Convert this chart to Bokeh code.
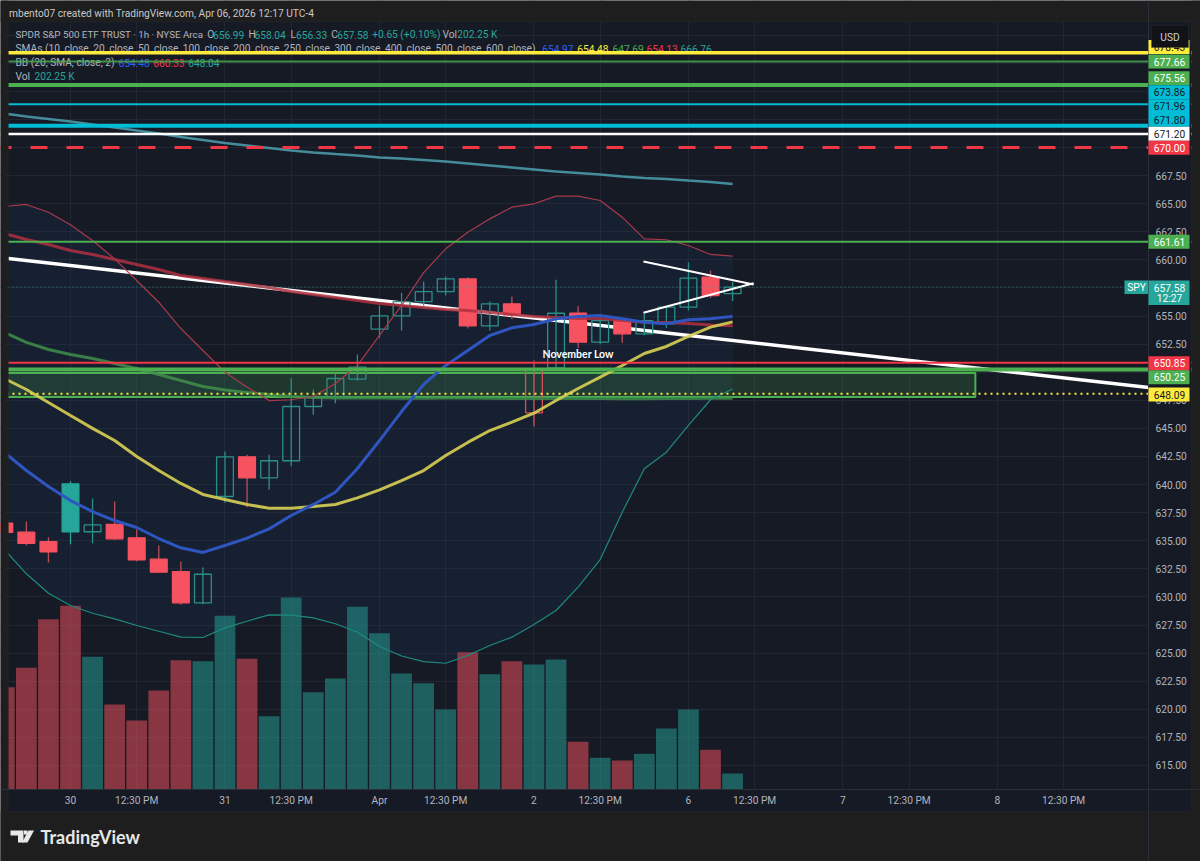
from bokeh.plotting import figure
from bokeh.core.properties import value
from bokeh.models import (Range1d, LinearAxis, FixedTicker, Span, Label, BoxAnnotation, PolyAnnotation,
                          PrintfTickFormatter, ColumnDataSource, Grid)
from bokeh.embed import file_html
from bokeh.resources import INLINE

# ---------- data (hourly bars, index 0 = first bar of Mar 30) ----------
bar_index = list(range(-3, 31))
opens = [636.56,635.76,634.91,635.80,635.80,636.45,635.26,633.36,632.26,629.48,638.94,642.47,640.60,642.12,646.95,647.78,649.38,
         653.83,655.02,656.29,657.18,658.31,654.13,656.09,646.39,650.39,655.25,652.67,654.60,653.42,654.31,655.79,658.46,656.99]
closes = [635.74,634.76,634.02,640.07,636.42,635.17,633.31,632.20,629.48,632.02,642.47,640.60,642.12,646.95,647.78,649.44,650.45,
          655.02,656.29,657.18,658.31,654.13,656.09,655.11,650.30,655.25,652.67,654.60,653.42,654.60,655.79,658.37,656.83,657.58]
highs = [636.60,636.71,635.32,640.30,638.76,638.49,636.00,634.58,633.15,632.62,642.94,642.65,642.65,649.47,648.46,649.86,651.58,
         655.94,657.07,658.07,658.52,658.46,656.29,656.74,651.04,658.23,655.88,654.96,654.80,655.25,655.91,659.77,659.05,658.04]
lows = [635.70,634.58,633.07,634.69,634.78,635.10,633.18,632.20,629.30,629.35,638.38,637.99,639.54,641.64,646.21,647.24,649.26,
        653.06,653.71,655.94,656.83,653.89,653.71,654.72,645.17,650.30,652.17,652.50,652.62,653.30,653.95,655.49,656.62,656.33]
# u = hollow rising, U = solid rising, d = solid falling, D = hollow red
candle_kind = ["d","d","d","U","u","d","d","d","d","u","u","d","u","u","u","u","u",
               "u","u","u","u","d","u","d","D","u","d","u","d","u","u","u","d","u"]
volumes = [1293,1538,2153,2322,1677,1074,872,1251,1634,1622,2196,1652,926,2427,1230,1403,2309,
           1976,1466,1344,1011,1735,1457,1622,1580,1643,603,401,367,451,771,1011,502,202]
volume_dir = ["d","d","d","d","u","d","d","d","d","u","u","d","u","u","u","u","u",
              "u","u","u","u","d","u","d","u","u","d","u","d","u","u","u","d","u"]

sma_blue = [642.86,641.25,639.83,638.58,637.60,636.80,636.18,635.20,634.37,633.96,634.58,635.23,636.06,637.25,638.23,639.32,641.43,
            643.92,646.50,648.91,650.60,651.93,653.27,653.95,654.25,654.75,654.96,655.05,654.75,654.45,654.31,654.67,654.75,654.97]
sma_yellow = [649.44,648.46,647.30,646.15,645.00,643.92,642.50,641.25,640.10,639.12,638.67,638.23,637.90,637.90,638.05,638.23,638.82,
              639.53,640.36,641.25,642.59,643.75,644.81,645.55,646.35,647.48,648.55,649.56,650.60,651.67,652.29,653.18,654.01,654.48]
sma_green = [653.54,652.65,652.02,651.58,651.22,650.78,650.33,649.80,649.26,648.73,648.42,648.20,648.02,647.84,647.75,647.70,647.72,
             647.70,647.68,647.69,647.70,647.70,647.68,647.67,647.66,647.66,647.65,647.65,647.64,647.64,647.65,647.66,647.68,647.69]
sma_red = [662.35,661.81,661.37,660.83,660.48,660.03,659.59,659.14,658.61,658.34,658.07,657.81,657.54,657.18,656.92,656.65,656.38,
           656.12,655.94,655.76,655.58,655.49,655.31,655.14,654.96,654.87,654.78,654.77,654.60,654.45,654.43,654.34,654.20,654.13]
sma_teal = [673.03,672.76,672.54,672.31,672.05,671.78,671.51,671.25,670.93,670.67,670.40,670.18,669.96,669.73,669.56,669.42,669.29,
            669.11,669.02,668.89,668.75,668.58,668.40,668.22,668.04,667.86,667.73,667.60,667.42,667.29,667.20,667.06,666.93,666.76]
bb_upper = [664.75,664.93,664.24,663.12,661.72,660.09,658.16,656.23,653.89,651.93,650.00,648.67,647.48,647.55,647.84,649.00,650.60,
            653.27,655.94,658.87,660.98,662.46,663.65,664.69,664.99,665.67,665.67,665.28,663.80,661.87,661.79,661.28,660.48,660.33]
bb_lower = [634.22,632.06,630.33,629.24,628.55,628.05,627.46,626.95,626.42,626.39,627.25,627.84,628.41,628.38,628.14,627.61,626.86,
            625.59,624.74,624.25,624.10,624.79,625.68,626.42,627.55,628.79,630.87,633.33,637.54,641.40,642.88,645.26,647.55,648.50]

# ---------- horizontal levels ----------
level_yellow, level_green_a, level_green_b = 678.43, 677.66, 675.56
level_cyan_a, level_cyan_b, level_white, level_red_dash = 673.86, 671.93, 671.20, 670.00
level_green_c, level_red, level_green_d, level_yellow_dot = 661.61, 650.85, 650.25, 648.09
zone_top, zone_bottom, zone_right = 649.93, 647.79, 41
last_price = 657.58
trend_x = [-2.81, 48.85]
trend_y = [660.12, 648.64]
wedge_x = [25.96, 30.95]
wedge_top = [659.85, 657.81]
wedge_bottom = [655.29, 657.92]
note_x, note_y, note_text = 23.0, 651.58, "November Low"

price_ticks = [615,617.5,620,622.5,625,627.5,630,632.5,635,637.5,640,642.5,645,647.5,650,652.5,655,657.5,660,662.5,665,667.5,670,672.5,675,677.5,680]
time_ticks = [0,3,7,10,14,17,21,24,28,31,35,38,42,45]
time_labels = ["30","12:30 PM","31","12:30 PM","Apr","12:30 PM","2","12:30 PM","6","12:30 PM","7","12:30 PM","8","12:30 PM"]

# ---------- colours ----------
BG, OUTER, GRID = "#161a25", "#1e1e1e", "#222633"
TEAL, RED = "#26a69a", "#f7525f"
AXIS_TXT = "#b2b5be"
FONT = "Roboto"
FS = "10.2px"

# The frame fills the whole page so that flags and the price scale can sit next to the pane.
p = figure(width=1200, height=861, output_backend="svg", toolbar_location=None,
           x_range=Range1d(-3.172, 51.201), y_range=Range1d(606.454, 683.083),
           x_axis_type=None, y_axis_type=None,
           min_border_left=0, min_border_right=0, min_border_top=0, min_border_bottom=0,
           background_fill_color=BG, border_fill_color=OUTER, outline_line_color=None)

ry = LinearAxis(ticker=FixedTicker(ticks=price_ticks), formatter=PrintfTickFormatter(format="%.2f"), fixed_location=48.845)
xa = LinearAxis(ticker=FixedTicker(ticks=time_ticks), major_label_overrides=dict(zip(time_ticks, time_labels)), fixed_location=612.86)
for ax, off in ((ry, 7), (xa, 5)):
    ax.major_tick_line_color = None
    ax.minor_tick_line_color = None
    ax.major_tick_out = 0
    ax.major_tick_in = 0
    ax.minor_tick_out = 0
    ax.axis_line_color = "#2a2e39"
    ax.major_label_text_color = AXIS_TXT
    ax.major_label_text_font = FONT
    ax.major_label_text_font_size = FS
    ax.major_label_standoff = off
    ax.level = "overlay"

p.add_layout(ry, "right")
p.add_layout(xa, "below")
p.add_layout(Grid(dimension=0, ticker=xa.ticker, grid_line_color=GRID))
p.add_layout(Grid(dimension=1, ticker=ry.ticker, grid_line_color=GRID))

# Bollinger fill
p.varea(x=bar_index, y1=bb_lower, y2=bb_upper, fill_color="#1f3a5f", fill_alpha=0.2)

# levels
def span(v, col, w, **kw):
    p.add_layout(Span(location=v, dimension="width", line_color=col, line_width=w, level="glyph", **kw))
span(level_green_a, "#4caf50", 2, line_alpha=0.8)
span(level_green_b, "#4caf50", 4)
span(level_cyan_a, "#00bcd4", 2)
span(level_cyan_b, "#00bcd4", 4)
span(level_white, "#ffffff", 2.5)
span(level_red_dash, "#f23645", 3, line_dash=[17, 19], line_dash_offset=6)
span(level_green_c, "#4caf50", 2)
span(level_red, "#f23645", 2)
span(level_green_d, "#4caf50", 4)
span(level_yellow_dot, "#ffeb3b", 2, line_dash=[2, 4])
span(level_yellow, "#ffeb3b", 3.5)
p.add_layout(Span(location=last_price, dimension="width", line_color=TEAL, line_width=1, line_dash=[1, 3], line_alpha=0.8, level="glyph"))

# zone + main trend line
p.quad(left=[-5], right=[zone_right], top=[zone_top], bottom=[zone_bottom],
       fill_color="#4caf50", fill_alpha=0.2, line_color="#4caf50", line_width=2)
p.line(trend_x, trend_y, line_color="#ffffff", line_width=3.5)

# volume on its own range (zero sits on the time axis)
p.extra_y_ranges = {"vol": Range1d(-910, 9973)}
vol_colors = [TEAL if d == "u" else RED for d in volume_dir]
p.vbar(x=bar_index, top=volumes, bottom=0, width=0.94, fill_color=vol_colors, fill_alpha=0.5,
       line_color=None, y_range_name="vol")

# candles
wick_col = [{"u": "#2b8f88", "U": TEAL, "d": "#b8505a", "D": "#d9505a"}[k] for k in candle_kind]
p.segment(bar_index, highs, bar_index, lows, line_color=wick_col, line_width=1.3)
tops = [max(a, b) for a, b in zip(opens, closes)]
bots = [min(a, b) for a, b in zip(opens, closes)]
fill = [{"u": None, "U": TEAL, "d": RED, "D": None}[k] for k in candle_kind]
alpha = [0 if f is None else 1 for f in fill]
line = [{"u": "#2b8f88", "U": TEAL, "d": RED, "D": "#d9505a"}[k] for k in candle_kind]
src = ColumnDataSource(dict(x=bar_index, top=tops, bottom=bots, line=line, alpha=alpha,
                            fill=[f or BG for f in fill]))
p.vbar(x="x", top="top", bottom="bottom", width=0.76, source=src, fill_color="fill", fill_alpha="alpha",
       line_color="line", line_width=1.3)

# moving averages
p.line(bar_index, sma_teal, line_color="#4a99a8", line_width=2.5, line_alpha=0.9)
p.line(bar_index, sma_green, line_color="#3f8f4a", line_width=3, line_alpha=0.85)
p.line(bar_index, sma_red, line_color="#b0303f", line_width=3, line_alpha=0.85)
p.line(bar_index, sma_yellow, line_color="#d8cf55", line_width=3, line_alpha=0.9)
p.line(bar_index, sma_blue, line_color="#2f55c0", line_width=3)
p.line(bar_index, bb_upper, line_color="#a83a4c", line_width=1.2)
p.line(bar_index, bb_lower, line_color="#1f8a7e", line_width=1.2)

p.line(wedge_x, wedge_top, line_color="#ffffff", line_width=2)
p.line(wedge_x, wedge_bottom, line_color="#ffffff", line_width=2)
p.text([note_x], [note_y], text=[note_text], text_color="#ffffff", text_font=value("Lato"), text_font_style="bold",
       text_font_size="10.5px", text_align="center", text_baseline="middle")

# ---------- page furniture, in canvas pixels ----------
def text(x, y, t, col="#b2b5be", size=FS, style="normal", align="left", level="overlay", font=FONT):
    p.add_layout(Label(x=x, y=y, x_units="canvas", y_units="canvas", text=t, text_color=col,
                       text_font=font, text_font_size=size, text_font_style=style, text_align=align,
                       text_baseline="middle", level=level))

def box(x0, x1, y0, y1, col, line=None, level="overlay"):
    p.add_layout(BoxAnnotation(left=x0, right=x1, top=y0, bottom=y1, left_units="canvas",
                               right_units="canvas", top_units="canvas", bottom_units="canvas",
                               fill_color=col, fill_alpha=1 if col else 0, line_color=line, level=level))

# legend sits under the level lines
text(15, 34, "SPDR S&P 500 ETF TRUST · 1h · NYSE Arca", size="9.8px", level="underlay")
for x, t in [(206.7, "O"), (248, "H"), (290, "L"), (330.7, "C"), (442, "Vol")]:
    text(x, 34, t, level="underlay")
for x, t in [(212.5, "656.99"), (254, "658.04"), (295.5, "656.33"), (336.7, "657.58"), (371.7, "+0.65 (+0.10%)"), (456.7, "202.25 K")]:
    text(x, 34, t, col=TEAL, level="underlay")
text(15, 48, "SMAs (10, close, 20, close, 50, close, 100, close, 200, close, 250, close, 300, close, 400, close, 500, close, 600, close)", level="underlay")
for x, t, c in [(541.7, "654.97", "#2962ff"), (576.7, "654.48", "#ffeb3b"), (612, "647.69", "#4caf50"), (646, "654.13", "#f23645"), (680, "666.76", TEAL)]:
    text(x, 48, t, col=c, level="underlay")
text(15, 62, "BB (20, SMA, close, 2)", level="underlay")
for x, t, c in [(118, "654.48", "#2962ff"), (152.7, "660.33", "#f23645"), (187.7, "648.04", TEAL)]:
    text(x, 62, t, col=c, level="underlay")
text(15, 76, "Vol", level="underlay")
text(34, 76, "202.25 K", col=TEAL, level="underlay")

# strips around the pane (below the axes, which are drawn at overlay level)
for args in [(1148, 1190.5, 22, 811, BG), (8, 1190.5, 789, 811, BG), (0, 1200, 0, 21.5, OUTER),
             (0, 1200, 811, 861, OUTER), (0, 8, 0, 861, OUTER), (1191, 1200, 0, 861, OUTER)]:
    box(*args, level="annotation")
box(7.5, 1191, 21.5, 811, None, "#2a2e39", level="annotation")

text(8.5, 13, "mbento07 created with TradingView.com, Apr 06, 2026 12:17 UTC-4", col="#c8c8c8")

# price flags: (y centre in px, label, fill, text colour)
flags = [(46.5, "678.43", "#ffeb3b", "#131722"), (61, "677.66", "#4caf50", "#ffffff"), (77.7, "675.56", "#4caf50", "#ffffff"),
         (91.7, "673.86", "#00bcd4", "#131722"), (105.7, "671.96", "#00bcd4", "#131722"), (119.3, "671.80", "#00bcd4", "#131722"),
         (133.3, "671.20", "#ffffff", "#131722"), (147.2, "670.00", "#f23645", "#ffffff"), (241.3, "661.61", "#4caf50", "#ffffff"),
         (362.7, "650.85", "#f23645", "#ffffff"), (376.7, "650.25", "#4caf50", "#ffffff"), (394, "648.09", "#ffeb3b", "#131722")]
for yc, t, c, tc in flags:
    box(1148, 1189, yc - 7, yc + 7, c)
    text(1169, yc, t, col=tc, align="center")
# USD button
box(1151, 1188, 25, 47, "#101216", "#333842")
text(1169.5, 36.5, "USD", col="#d1d4dc", align="center")
# last price flag
box(1148, 1189, 280, 304.5, TEAL)
text(1169, 287, "657.58", col="#ffffff", align="center")
text(1169, 298, "12:27", col="#ffffff", align="center")
box(1124, 1147.5, 280, 293.5, TEAL)
text(1136, 287, "SPY", col="#ffffff", align="center")

# TradingView logo
def poly(xs, ys):
    p.add_layout(PolyAnnotation(xs=xs, ys=ys, xs_units="canvas", ys_units="canvas",
                                fill_color="#e8e8e8", fill_alpha=1, line_color=None, level="overlay"))
poly([10, 23, 23, 17.5, 17.5, 10], [830, 830, 842, 842, 835, 835])
poly([28, 33.5, 27, 21.5], [830, 830, 842, 842])
poly([23.5, 27, 27, 23.5], [830, 830, 834, 834])
text(40, 836.5, "TradingView", col="#e8e8e8", size="18px", style="bold", font="Lato")

open("out.html", "w").write(file_html(p, INLINE))
